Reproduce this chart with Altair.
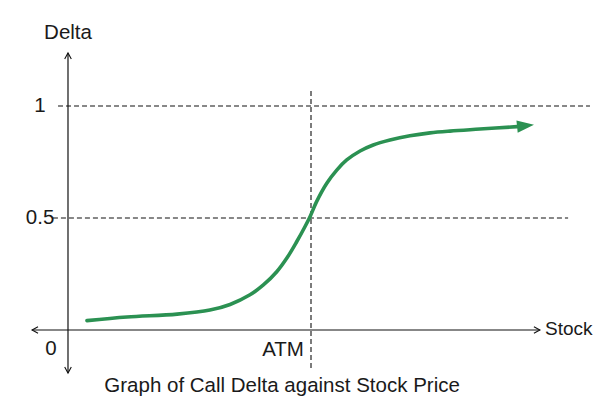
import altair as alt
import pandas as pd

# ---- data (Stock in arbitrary units, ATM = 100; Delta 0..1) ----
curve_stock = [7.8, 24.3, 44.9, 58.4, 66.7, 74.9, 80.4, 85.9, 90.0, 94.1, 97.5,
               99.6, 102.3, 106.5, 110.6, 114.7, 120.2, 125.6, 132.5, 140.7,
               149.0, 157.2, 169.5, 184.8]
curve_delta = [0.042, 0.058, 0.071, 0.089, 0.114, 0.157, 0.201, 0.260, 0.320, 0.394,
               0.461, 0.506, 0.573, 0.655, 0.714, 0.759, 0.799, 0.826, 0.848, 0.867,
               0.880, 0.888, 0.897, 0.908]

atm_stock = 100
delta_levels = [1, 0.5]
level_labels = ["1", "0.5"]
x_label = "Stock"
y_label = "Delta"
atm_label = "ATM"
origin_label = "0"
caption = "Graph of Call Delta against Stock Price"

# axis extents (data units)
x_axis_min, x_axis_max = -14.8, 194.2
y_axis_min, y_axis_max = -0.192, 1.2366
guide_x_start = [-4.1, -6.2]
guide_x_end = [214.8, 205.8]
atm_y_range = [-0.17, 1.075]

X_DOM = [-24.69, 216.87]
Y_DOM = [-0.33036, 1.4375]

FONT = "Liberation Sans"
FS = 20.5
TXT = "#1a1a1a"
GREEN = "#2b9152"

xs = alt.Scale(domain=X_DOM, nice=False, zero=False)
ys = alt.Scale(domain=Y_DOM, nice=False, zero=False)

def X(f="x"):
    return alt.X(f"{f}:Q", scale=xs, axis=None)

def Y(f="y"):
    return alt.Y(f"{f}:Q", scale=ys, axis=None)

# main axes
axes_df = pd.DataFrame({
    "x": [x_axis_min, 0], "x2": [x_axis_max, 0],
    "y": [0, y_axis_min], "y2": [0, y_axis_max],
})
axes = alt.Chart(axes_df).mark_rule(color="#111", strokeWidth=1.2).encode(
    x=X(), x2="x2:Q", y=Y(), y2="y2:Q")

# axis arrow chevrons
chev_df = pd.DataFrame({
    "x": [x_axis_max, x_axis_min, 0, 0],
    "y": [0, 0, y_axis_max, y_axis_min],
    "a": [0, 180, 270, 90],
})
chev = alt.Chart(chev_df).mark_point(
    shape="M-4,-2.2L0,0L-4,2.2", filled=False, color="#111",
    strokeWidth=1.1, size=9, opacity=1
).encode(x=X(), y=Y(), angle=alt.Angle("a:Q", scale=None))

# dashed guides
guide_df = pd.DataFrame({
    "x": guide_x_start + [atm_stock], "x2": guide_x_end + [atm_stock],
    "y": delta_levels + [atm_y_range[0]], "y2": delta_levels + [atm_y_range[1]],
})
guides = alt.Chart(guide_df).mark_rule(
    color="#111", strokeWidth=1.1, strokeDash=[5, 3]
).encode(x=X(), x2="x2:Q", y=Y(), y2="y2:Q")

# curve
curve_df = pd.DataFrame({"x": curve_stock, "y": curve_delta})
curve = alt.Chart(curve_df).mark_line(
    color=GREEN, strokeWidth=3.6, interpolate="catmull-rom", strokeCap="round"
).encode(x=X(), y=Y())

# arrowhead at curve end
head_df = curve_df.tail(1)
head = alt.Chart(head_df).mark_point(
    shape="M0,-0.72L2,0L0,0.72Z", filled=True, color=GREEN, size=289,
    angle=354, opacity=1
).encode(x=X(), y=Y())

# text labels
lab_df = pd.DataFrame({
    "x": [-11.5, -11.5, -7.0, 0],
    "y": [delta_levels[0], delta_levels[1], -0.085, 1.326],
    "t": [level_labels[0], level_labels[1], origin_label, y_label],
})
labels = alt.Chart(lab_df).mark_text(
    font=FONT, fontSize=FS, color=TXT, align="center", baseline="middle"
).encode(x=X(), y=Y(), text="t:N")

atm_df = pd.DataFrame({"x": [97.1], "y": [-0.089], "t": [atm_label]})
atm_t = alt.Chart(atm_df).mark_text(
    font=FONT, fontSize=FS, color=TXT, align="right", baseline="middle"
).encode(x=X(), y=Y(), text="t:N")

stock_df = pd.DataFrame({"x": [196.3], "y": [0.004], "t": [x_label]})
stock_t = alt.Chart(stock_df).mark_text(
    font=FONT, fontSize=19, color=TXT, align="left", baseline="middle"
).encode(x=X(), y=Y(), text="t:N")

cap_df = pd.DataFrame({"x": [88.1], "y": [-0.25], "t": [caption]})
cap_t = alt.Chart(cap_df).mark_text(
    font=FONT, fontSize=FS, color=TXT, align="center", baseline="middle"
).encode(x=X(), y=Y(), text="t:N")

chart = alt.layer(guides, axes, chev, curve, head, labels, atm_t, stock_t, cap_t).properties(
    width=587, height=396,
    autosize=alt.AutoSizeParams(type="none"),
    padding=0,
    background="white",
).configure_view(stroke=None)

chart.save("out.html", embed_options={"renderer": "svg", "actions": False})
